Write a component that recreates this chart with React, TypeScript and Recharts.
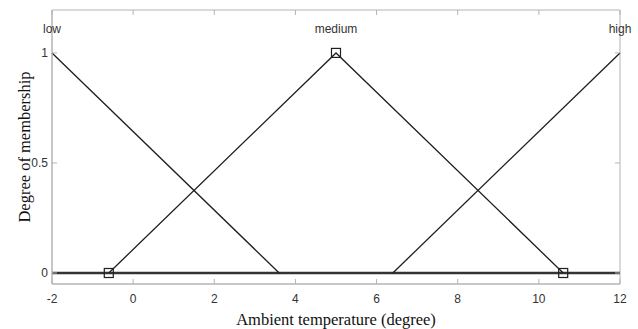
import { ComposedChart, Line, Scatter, XAxis, YAxis, ReferenceArea } from 'recharts';

// membership function breakpoints
const lowMf = [
  { x: -2, y: 1 },
  { x: 3.6, y: 0 },
];
const mediumMf = [
  { x: -0.6, y: 0 },
  { x: 5, y: 1 },
  { x: 10.6, y: 0 },
];
const highMf = [
  { x: 6.4, y: 0 },
  { x: 12, y: 1 },
];
const zeroLine = [
  { x: -2, y: 0 },
  { x: 12, y: 0 },
];
const mfLabels = [
  { x: -2, y: 1.09, name: 'low' },
  { x: 5, y: 1.09, name: 'medium' },
  { x: 12, y: 1.09, name: 'high' },
];
const xTicks = [-2, 0, 2, 4, 6, 8, 10, 12];
const yTicks = [0, 0.5, 1];
const xDomain = [-2, 12];
const yDomain = [-0.05, 1.195];

const frame = '#b4b4b4';
const ink = '#1e1e1e';
const sans = '"Liberation Sans", Arial, sans-serif';
const serif = '"Liberation Serif", "Times New Roman", serif';

const BottomTick = (p: any) => (
  <g>
    <line x1={p.x} y1={p.y} x2={p.x} y2={p.y - 5} stroke={frame} />
    <text x={p.x} y={p.y + 19} textAnchor="middle" fontSize={12} fontFamily={sans} fill="#333">
      {p.payload.value}
    </text>
  </g>
);
const TopTick = (p: any) => <line x1={p.x} y1={p.y} x2={p.x} y2={p.y + 5} stroke={frame} />;
const LeftTick = (p: any) => (
  <g>
    <line x1={p.x} y1={p.y} x2={p.x + 5} y2={p.y} stroke={frame} />
    <text x={p.x - 4} y={p.y + 4} textAnchor="end" fontSize={12} fontFamily={sans} fill="#333">
      {p.payload.value}
    </text>
  </g>
);
const RightTick = (p: any) => <line x1={p.x} y1={p.y} x2={p.x - 5} y2={p.y} stroke={frame} />;

const squareDot = (p: any) => (
  <rect key={p.index} x={p.cx - 4.5} y={p.cy - 4.5} width={9} height={9} fill="none" stroke={ink} strokeWidth={1.2} />
);

const labelShape = (p: any) => (
  <text x={p.cx} y={p.cy} textAnchor="middle" fontSize={12} fontFamily={sans} fill="#333">
    {p.payload.name}
  </text>
);

export default function App() {
  return (
    <div>
      <style>{'body{margin:0}'}</style>
      <ComposedChart width={638} height={329} margin={{ top: 9, right: 17, bottom: 0, left: 12 }}>
        <XAxis
          dataKey="x"
          type="number"
          domain={xDomain}
          ticks={xTicks}
          height={45}
          tickSize={0}
          tickMargin={0}
          tickLine={false}
          axisLine={{ stroke: frame }}
          tick={BottomTick}
          label={{ value: 'Ambient temperature (degree)', position: 'insideBottom', offset: 4, fontFamily: serif, fontSize: 16.5, fill: '#111' }}
        />
        <XAxis
          xAxisId="top"
          dataKey="x"
          orientation="top"
          type="number"
          domain={xDomain}
          ticks={xTicks}
          height={1}
          tickSize={0}
          tickMargin={0}
          tickLine={false}
          axisLine={false}
          tick={TopTick}
        />
        <YAxis
          type="number"
          domain={yDomain}
          ticks={yTicks}
          width={40}
          tickSize={0}
          tickMargin={0}
          tickLine={false}
          axisLine={{ stroke: frame }}
          tick={LeftTick}
          label={{ value: 'Degree of membership', angle: -90, position: 'insideLeft', offset: 12, fontFamily: serif, fontSize: 16.5, fill: '#111', style: { textAnchor: 'middle' } }}
        />
        <YAxis
          yAxisId="right"
          orientation="right"
          type="number"
          domain={yDomain}
          ticks={yTicks}
          width={1}
          tickSize={0}
          tickMargin={0}
          tickLine={false}
          axisLine={false}
          tick={RightTick}
        />
        <ReferenceArea x1={xDomain[0]} x2={xDomain[1]} y1={yDomain[0]} y2={yDomain[1]} fill="none" stroke={frame} strokeWidth={1} ifOverflow="visible" />
        <Line data={zeroLine} dataKey="y" stroke="#333" strokeWidth={2.5} dot={false} isAnimationActive={false} />
        <Line data={lowMf} dataKey="y" stroke={ink} strokeWidth={1.3} dot={false} isAnimationActive={false} />
        <Line data={mediumMf} dataKey="y" stroke={ink} strokeWidth={1.3} dot={squareDot} isAnimationActive={false} />
        <Line data={highMf} dataKey="y" stroke={ink} strokeWidth={1.3} dot={false} isAnimationActive={false} />
        <Scatter data={mfLabels} dataKey="y" xAxisId="top" yAxisId="right" shape={labelShape} isAnimationActive={false} />
      </ComposedChart>
    </div>
  );
}
